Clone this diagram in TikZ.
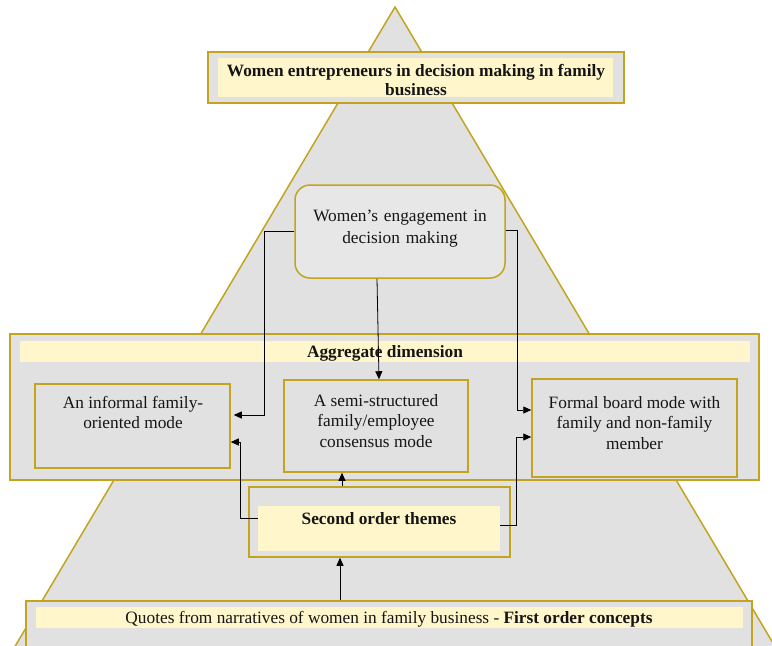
\documentclass[tikz,border=0pt]{standalone}
\usepackage{fontspec}
\setmainfont{Liberation Serif}
\usetikzlibrary{arrows.meta}
\definecolor{gold}{HTML}{C2A41E}
\definecolor{grayfill}{HTML}{E1E1E1}
\definecolor{yellowfill}{HTML}{FFF6CC}
\definecolor{engfill}{HTML}{E7E7E7}
\definecolor{txt}{HTML}{151515}
\begin{document}
\begin{tikzpicture}[x=1pt,y=-1pt,
  box/.style={draw=gold,line width=1.5pt,fill=grayfill,inner sep=0pt,rectangle},
  band/.style={fill=yellowfill,inner sep=0pt,rectangle},
  lbl/.style={font=\fontsize{17.3}{20.5}\selectfont,text=txt,align=center,inner sep=0pt},
  blbl/.style={font=\fontsize{17.3}{19}\selectfont\bfseries,text=txt,align=center,inner sep=0pt},
  arr/.style={draw=black,line width=0.8pt,-{Triangle[length=8pt,width=7pt]}}]
\useasboundingbox (0,0) rectangle (772,646);
\begin{scope}
\clip (0,0) rectangle (772,646);
% pyramid
\path[draw=gold,line width=1.5pt,fill=grayfill] (395,7) -- (-21,707) -- (811,707) -- cycle;
% top title
\node[box,minimum width=416pt,minimum height=51pt] (top) at (416,77.5) {};
\node[band,minimum width=395pt,minimum height=39pt] (topin) at (415.5,77.5) {};
\node[blbl] (toptxt) at (416,80) {Women entrepreneurs in decision making in family\\business};
% engagement
\node[draw=gold,line width=1.5pt,fill=engfill,rounded corners=15pt,inner sep=0pt,minimum width=210pt,minimum height=93pt] (eng) at (400,231.5) {};
\node[lbl,text width=200pt] (engtxt) at (400,228.5) {Women’s engagement in\\[1.5pt]decision making};
% aggregate dimension
\node[box,minimum width=749pt,minimum height=146pt] (agg) at (384.5,407) {};
\node[band,minimum width=730pt,minimum height=21pt] (aggin) at (385,351.5) {};
\node[blbl] (aggtxt) at (385,353.5) {Aggregate dimension};
% three modes
\node[box,minimum width=195pt,minimum height=84pt] (inf) at (132.5,426) {};
\node[lbl] (inftxt) at (133,412.5) {An informal family-\\oriented mode};
\node[box,minimum width=184pt,minimum height=92pt] (semi) at (376,426) {};
\node[lbl] (semitxt) at (376,421) {A semi-structured\\family/employee\\consensus mode};
\node[box,minimum width=205pt,minimum height=98pt] (form) at (634.5,428) {};
\node[lbl] (formtxt) at (634.5,423) {Formal board mode with\\family and non-family\\member};
% second order themes
\node[box,minimum width=261pt,minimum height=70pt] (sot) at (379.5,522) {};
\node[band,minimum width=242pt,minimum height=45pt] (sotin) at (379,528.5) {};
\node[blbl] (sottxt) at (379,519) {Second order themes};
% first order concepts
\node[box,minimum width=726pt,minimum height=79pt] (quo) at (389,640.5) {};
\node[band,minimum width=707pt,minimum height=21pt] (quoin) at (389.5,617.5) {};
\node[lbl] (quotxt) at (389,619.5) {Quotes from narratives of women in family business - \textbf{First order concepts}};
\end{scope}
% connectors
\draw[arr] (eng.west) -- (264,231.5) |- ([yshift=11pt,xshift=3pt]inf.east);
\draw[arr] ([xshift=-23pt]eng.south) -- ([xshift=3pt]semi.north);
\draw[arr] ([yshift=1.5pt]eng.east) -- (517,230) |- (form.west |- 0,410);
\draw[arr] ([yshift=10.5pt]sotin.west) -- (240,518) |- (inf.east |- 0,442);
\draw[arr] ([yshift=3.5pt]sotin.east) -- (516,525) |- (form.west |- 0,437);
\draw[arr] ([xshift=-37.5pt]sot.north) -- ([xshift=-37.5pt]sot.north |- semi.south);
\draw[arr] ([xshift=-49pt]quo.north) -- ([xshift=-49pt]quo.north |- sot.south);
\end{tikzpicture}
\end{document}
